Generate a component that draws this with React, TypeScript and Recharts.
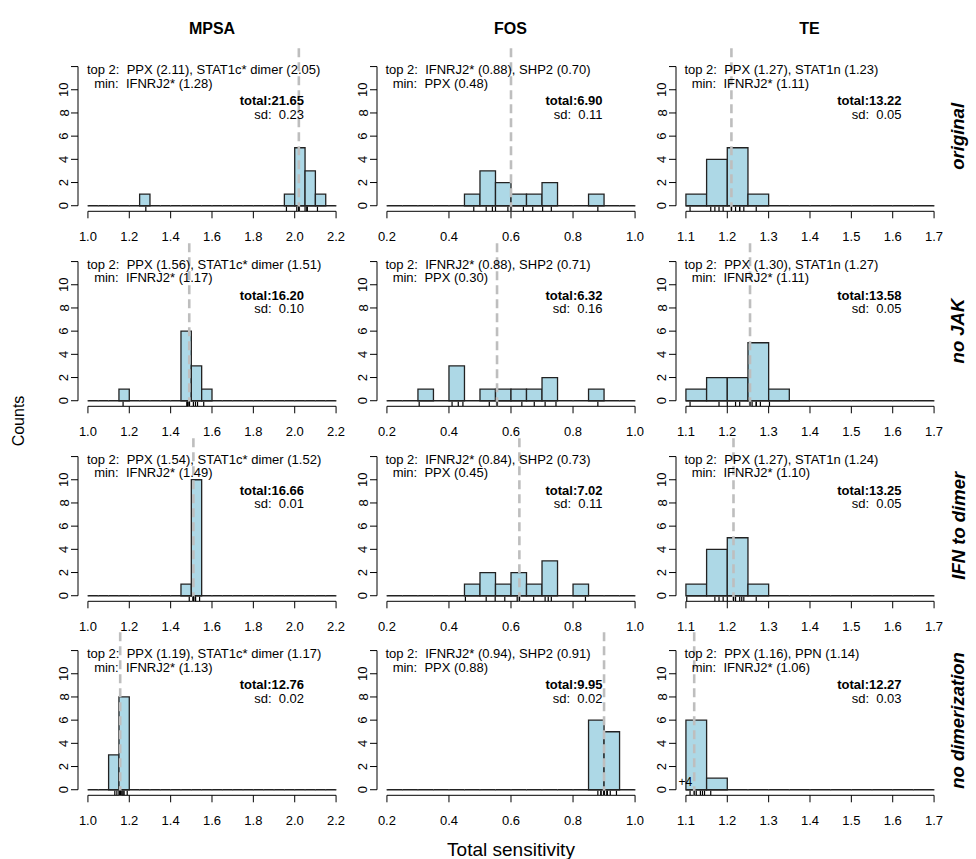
import React from 'react';
import { ComposedChart, XAxis, YAxis, ReferenceArea, ReferenceLine, Scatter } from 'recharts';

// ---------- data ----------
const methods = ['MPSA', 'FOS', 'TE'];
const scenarios = ['original', 'no JAK', 'IFN to dimer', 'no dimerization'];

const mpsaTicks = [1.0, 1.2, 1.4, 1.6, 1.8, 2.0, 2.2];
const fosTicks = [0.2, 0.4, 0.6, 0.8, 1.0];
const teTicks = [1.1, 1.2, 1.3, 1.4, 1.5, 1.6, 1.7];
const countTicks = [0, 2, 4, 6, 8, 10, 12];
const countLabels = ['0', '2', '4', '6', '8', '10', ''];
const binWidth = 0.05;

// per-parameter total sensitivities (11 parameters per panel)
const mpsaOriginal = [1.28, 1.96, 2.01, 2.02, 2.02, 2.02, 2.05, 2.06, 2.06, 2.06, 2.11];
const mpsaNoJak = [1.17, 1.48, 1.48, 1.48, 1.49, 1.49, 1.49, 1.51, 1.52, 1.53, 1.56];
const mpsaIfnDimer = [1.49, 1.51, 1.51, 1.51, 1.51, 1.51, 1.52, 1.52, 1.52, 1.52, 1.54];
const mpsaNoDim = [1.13, 1.14, 1.15, 1.155, 1.155, 1.156, 1.16, 1.165, 1.17, 1.175, 1.19];

const fosOriginal = [0.48, 0.52, 0.54, 0.55, 0.59, 0.6, 0.64, 0.67, 0.702, 0.73, 0.88];
const fosNoJak = [0.304, 0.41, 0.43, 0.445, 0.53, 0.555, 0.635, 0.675, 0.71, 0.745, 0.88];
const fosIfnDimer = [0.453, 0.52, 0.549, 0.58, 0.62, 0.627, 0.673, 0.71, 0.72, 0.73, 0.84];
const fosNoDim = [0.88, 0.89, 0.89, 0.9, 0.9, 0.9, 0.91, 0.91, 0.91, 0.92, 0.94];

const teOriginal = [1.11, 1.16, 1.17, 1.18, 1.19, 1.21, 1.22, 1.23, 1.23, 1.24, 1.27];
const teNoJak = [1.11, 1.18, 1.2, 1.22, 1.23, 1.255, 1.26, 1.27, 1.27, 1.28, 1.302];
const teIfnDimer = [1.102, 1.17, 1.18, 1.19, 1.2, 1.215, 1.22, 1.23, 1.235, 1.24, 1.27];
const teNoDim = [1.06, 1.08, 1.09, 1.095, 1.11, 1.12, 1.125, 1.135, 1.14, 1.145, 1.16];

const panelValues = [
  [mpsaOriginal, fosOriginal, teOriginal],
  [mpsaNoJak, fosNoJak, teNoJak],
  [mpsaIfnDimer, fosIfnDimer, teIfnDimer],
  [mpsaNoDim, fosNoDim, teNoDim],
];

const top2Labels = [
  ['PPX (2.11), STAT1c* dimer (2.05)', 'IFNRJ2* (0.88), SHP2 (0.70)', 'PPX (1.27), STAT1n (1.23)'],
  ['PPX (1.56), STAT1c* dimer (1.51)', 'IFNRJ2* (0.88), SHP2 (0.71)', 'PPX (1.30), STAT1n (1.27)'],
  ['PPX (1.54), STAT1c* dimer (1.52)', 'IFNRJ2* (0.84), SHP2 (0.73)', 'PPX (1.27), STAT1n (1.24)'],
  ['PPX (1.19), STAT1c* dimer (1.17)', 'IFNRJ2* (0.94), SHP2 (0.91)', 'PPX (1.16), PPN (1.14)'],
];
const minLabels = [
  ['IFNRJ2* (1.28)', 'PPX (0.48)', 'IFNRJ2* (1.11)'],
  ['IFNRJ2* (1.17)', 'PPX (0.30)', 'IFNRJ2* (1.11)'],
  ['IFNRJ2* (1.49)', 'PPX (0.45)', 'IFNRJ2* (1.10)'],
  ['IFNRJ2* (1.13)', 'PPX (0.88)', 'IFNRJ2* (1.06)'],
];
const totalLabels = [
  ['21.65', '6.90', '13.22'],
  ['16.20', '6.32', '13.58'],
  ['16.66', '7.02', '13.25'],
  ['12.76', '9.95', '12.27'],
];
const sdLabels = [
  ['0.23', '0.11', '0.05'],
  ['0.10', '0.16', '0.05'],
  ['0.01', '0.11', '0.05'],
  ['0.02', '0.02', '0.03'],
];

const axes = [
  { lo: 1.0, hi: 2.2, ticks: mpsaTicks },
  { lo: 0.2, hi: 1.0, ticks: fosTicks },
  { lo: 1.1, hi: 1.7, ticks: teTicks },
];

// ---------- layout / style ----------
const FONT = '"Liberation Sans", Arial, Helvetica, sans-serif';
const PLOT_W = 268;
const PLOT_H = 150.3;
const COL_LEFT = [78, 376.5, 675.5];
const ROW_TOP = [61.2, 255.9, 450.6, 645.3];
const Y_AX_W = 40;
const X_AX_H = 44;
const TOP_M = 16;
const RIGHT_M = 4;
const Y_MIN = -0.48;
const Y_MAX = 12.48;
const DASH_TOP = 13.6;
const EDGE_TICK = 0.06;
const BAR_FILL = '#ADD8E6';
const DASH_COLOR = '#BEBEBE';

function histogram(values: number[], lo: number, hi: number) {
  const n = Math.round((hi - lo) / binWidth);
  const counts = new Array(n).fill(0);
  values.forEach((v) => {
    if (v < lo - 1e-9 || v > hi + 1e-9) return;
    let i = Math.ceil((v - lo) / binWidth - 1e-6) - 1;
    if (i < 0) i = 0;
    if (i >= n) i = n - 1;
    counts[i] += 1;
  });
  return counts.map((count, i) => ({ x0: lo + i * binWidth, x1: lo + (i + 1) * binWidth, count }));
}

function median(values: number[]) {
  const s = [...values].sort((a, b) => a - b);
  const m = Math.floor(s.length / 2);
  return s.length % 2 ? s[m] : (s[m - 1] + s[m]) / 2;
}

const xPx = (c: number, v: number) => {
  const { lo, hi } = axes[c];
  const pad = (hi - lo) * 0.04;
  return COL_LEFT[c] + ((v - (lo - pad)) / ((hi - lo) * 1.08)) * PLOT_W;
};
const yPx = (r: number, v: number) => ROW_TOP[r] + ((Y_MAX - v) / (Y_MAX - Y_MIN)) * PLOT_H;

const XTick = (props: any) => {
  const { x, y, payload } = props;
  return (
    <text x={x} y={y + 16} textAnchor="middle" dominantBaseline="central" fontSize={13} fontFamily={FONT} fill="#000">
      {Number(payload.value).toFixed(1)}
    </text>
  );
};

const YTick = (props: any) => {
  const { x, y, payload } = props;
  const idx = countTicks.indexOf(payload.value);
  const label = idx >= 0 ? countLabels[idx] : '';
  const cx = x - 5;
  return (
    <text x={cx} y={y} transform={`rotate(-90, ${cx}, ${y})`} textAnchor="middle" dominantBaseline="central" fontSize={13} fontFamily={FONT} fill="#000">
      {label}
    </text>
  );
};

const RugTick = (props: any) => (
  <line x1={props.cx} x2={props.cx} y1={props.cy} y2={props.cy - 4.5} stroke="#000" strokeWidth={1.2} />
);

function Panel({ r, c }: { r: number; c: number }) {
  const { lo, hi, ticks } = axes[c];
  const values = panelValues[r][c];
  const pad = (hi - lo) * 0.04;
  const bins = histogram(values, lo, hi);
  const med = median(values);
  const rug = values.filter((v) => v >= lo && v <= hi).map((v) => ({ x: v, y: Y_MIN }));
  // edges of empty bins (drawn by R as zero-height rectangles)
  const emptyEdges: number[] = [];
  bins.forEach((b, i) => {
    if (b.count === 0) {
      if (i === 0 || bins[i - 1].count === 0) emptyEdges.push(b.x0);
      if (i === bins.length - 1) emptyEdges.push(b.x1);
    }
  });
  return (
    <div style={{ position: 'absolute', left: COL_LEFT[c] - Y_AX_W, top: ROW_TOP[r] - TOP_M }}>
      <ComposedChart
        width={Y_AX_W + PLOT_W + RIGHT_M}
        height={TOP_M + PLOT_H + X_AX_H}
        margin={{ top: TOP_M, right: RIGHT_M, bottom: 0, left: 0 }}
      >
        <XAxis
          type="number"
          dataKey="x"
          domain={[lo - pad, hi + pad]}
          allowDataOverflow
          ticks={ticks}
          interval={0}
          axisLine={false}
          tickSize={7}
          tickLine={{ stroke: '#000', strokeWidth: 1 }}
          height={X_AX_H}
          tick={<XTick />}
        />
        <YAxis
          type="number"
          dataKey="y"
          domain={[Y_MIN, Y_MAX]}
          allowDataOverflow
          ticks={countTicks}
          interval={0}
          axisLine={false}
          tickSize={7}
          tickLine={{ stroke: '#000', strokeWidth: 1 }}
          width={Y_AX_W}
          tick={<YTick />}
        />
        <ReferenceLine segment={[{ x: lo, y: Y_MIN }, { x: hi, y: Y_MIN }]} stroke="#000" strokeWidth={1} ifOverflow="visible" />
        <ReferenceLine segment={[{ x: lo - pad, y: 0 }, { x: lo - pad, y: 12 }]} stroke="#000" strokeWidth={1} ifOverflow="visible" />
        <ReferenceLine segment={[{ x: lo, y: 0 }, { x: hi, y: 0 }]} stroke="#222" strokeWidth={1.3} ifOverflow="visible" />
        {emptyEdges.map((e, i) => (
          <ReferenceLine
            key={`e${i}`}
            segment={[{ x: e, y: -EDGE_TICK }, { x: e, y: EDGE_TICK }]}
            stroke="#555"
            strokeWidth={0.8}
            ifOverflow="visible"
          />
        ))}
        {bins
          .filter((b) => b.count > 0)
          .map((b, i) => (
            <ReferenceArea
              key={i}
              x1={b.x0}
              x2={b.x1}
              y1={0}
              y2={b.count}
              fill={BAR_FILL}
              fillOpacity={1}
              stroke="#222"
              strokeWidth={1.3}
              ifOverflow="visible"
            />
          ))}
        <Scatter data={rug} shape={RugTick} isAnimationActive={false} />
        <ReferenceLine
          segment={[{ x: med, y: Y_MIN }, { x: med, y: DASH_TOP }]}
          stroke={DASH_COLOR}
          strokeWidth={2.6}
          strokeDasharray="9 5"
          ifOverflow="visible"
        />
      </ComposedChart>
    </div>
  );
}

export default function App() {
  const txt = { fontFamily: FONT, fill: '#000' } as const;
  return (
    <div style={{ position: 'absolute', left: 0, top: 0, width: 976, height: 859, background: '#fff', overflow: 'hidden' }}>
      {scenarios.map((_, r) => methods.map((__, c) => <Panel key={`${r}-${c}`} r={r} c={c} />))}
      <svg width={976} height={859} style={{ position: 'absolute', left: 0, top: 0, pointerEvents: 'none' }}>
        {methods.map((m, c) => (
          <text key={m} x={COL_LEFT[c] + PLOT_W / 2} y={28} textAnchor="middle" dominantBaseline="central" fontSize={16} fontWeight="bold" {...txt}>
            {m}
          </text>
        ))}
        {scenarios.map((s, r) => {
          const cy = ROW_TOP[r] + PLOT_H / 2;
          return (
            <text key={s} x={958} y={cy} transform={`rotate(-90, 958, ${cy})`} textAnchor="middle" dominantBaseline="central" fontSize={18.5} fontWeight="bold" fontStyle="italic" {...txt}>
              {s}
            </text>
          );
        })}
        <text x={18} y={421} transform="rotate(-90, 18, 421)" textAnchor="middle" dominantBaseline="central" fontSize={16} {...txt}>
          Counts
        </text>
        <text x={511} y={849} textAnchor="middle" dominantBaseline="central" fontSize={19} {...txt}>
          Total sensitivity
        </text>
        {scenarios.map((_, r) =>
          methods.map((__, c) => {
            const { lo, hi } = axes[c];
            const left = xPx(c, lo) - 1;
            const right = xPx(c, hi) - 32;
            const top = ROW_TOP[r];
            const outside = panelValues[r][c].filter((v) => v < lo || v > hi).length;
            return (
              <g key={`t-${r}-${c}`}>
                <text x={left} y={top + 8.5} dominantBaseline="central" fontSize={13} xmlSpace="preserve" style={{ whiteSpace: 'pre' }} {...txt}>
                  {`top 2:  ${top2Labels[r][c]}`}
                </text>
                <text x={left} y={top + 22} dominantBaseline="central" fontSize={13} xmlSpace="preserve" style={{ whiteSpace: 'pre' }} {...txt}>
                  {`  min:  ${minLabels[r][c]}`}
                </text>
                <text x={right} y={top + 39.5} textAnchor="end" dominantBaseline="central" fontSize={13} fontWeight="bold" {...txt}>
                  {`total:${totalLabels[r][c]}`}
                </text>
                <text x={right} y={top + 53} textAnchor="end" dominantBaseline="central" fontSize={13} xmlSpace="preserve" style={{ whiteSpace: 'pre' }} {...txt}>
                  {`sd:  ${sdLabels[r][c]}`}
                </text>
                {outside > 0 && (
                  <text x={xPx(c, lo)} y={yPx(r, 0.65)} textAnchor="middle" dominantBaseline="central" fontSize={12} {...txt}>
                    {`+${outside}`}
                  </text>
                )}
              </g>
            );
          })
        )}
      </svg>
    </div>
  );
}
